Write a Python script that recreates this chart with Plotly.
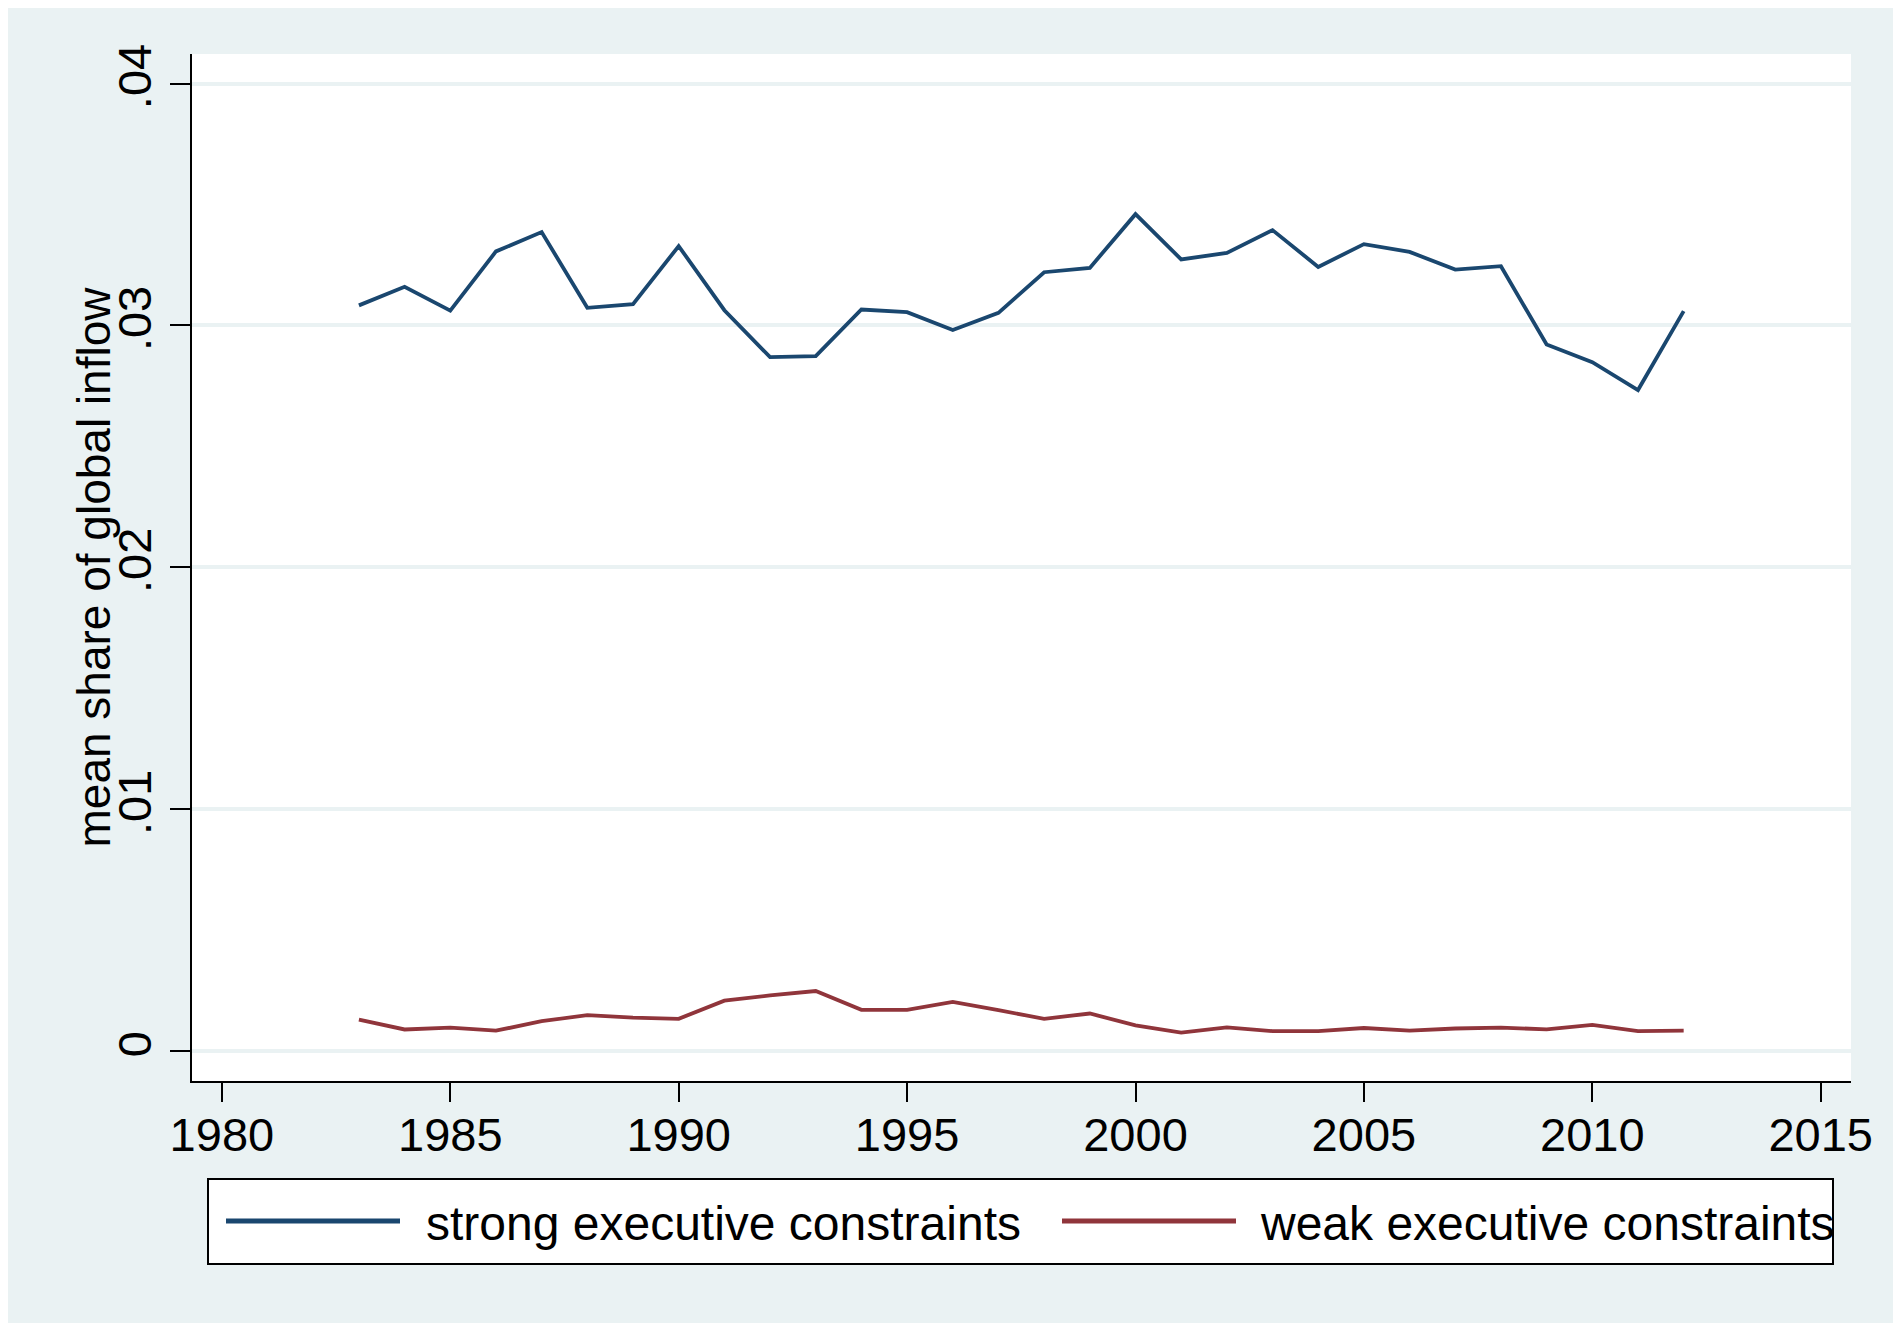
import plotly.graph_objects as go

# yearly data
years = list(range(1983, 2013))
strong = [0.03083, 0.03160, 0.03061, 0.03306, 0.03386, 0.03073, 0.03088, 0.03328,
          0.03063, 0.02869, 0.02873, 0.03066, 0.03055, 0.02981, 0.03052, 0.03220,
          0.03238, 0.03460, 0.03273, 0.03300, 0.03394, 0.03242, 0.03336, 0.03304,
          0.03231, 0.03245, 0.02921, 0.02848, 0.02733, 0.03059]
weak = [0.00131, 0.00090, 0.00098, 0.00085, 0.00124, 0.00149, 0.00139, 0.00134,
        0.00209, 0.00231, 0.00249, 0.00171, 0.00171, 0.00204, 0.00170, 0.00134,
        0.00156, 0.00107, 0.00077, 0.00099, 0.00083, 0.00083, 0.00096, 0.00085,
        0.00094, 0.00098, 0.00090, 0.00109, 0.00083, 0.00085]

x_ticks = [1980, 1985, 1990, 1995, 2000, 2005, 2010, 2015]
y_ticks = [0, 0.01, 0.02, 0.03, 0.04]
y_tick_labels = ['0', '.01', '.02', '.03', '.04']

series_names = ['strong executive constraints', 'weak executive constraints']
colors = ['#1a476f', '#90353b']
y_title = 'mean share of global inflow'

BG = '#eaf2f3'
FONT = 'Liberation Sans, Arial, sans-serif'

W, H = 1901, 1323
L, R, T, B = 184, 58, 46, 250
PW, PH = W - L - R, H - T - B


# pixel position -> paper coordinates (for the hand-drawn legend)
def px(x):
    return (x - L) / PW


def py(y):
    return 1 - (y - T) / PH


fig = go.Figure()

for name, vals, col in zip(series_names, [strong, weak], colors):
    fig.add_trace(go.Scatter(x=years, y=vals, mode='lines', name=name,
                             line=dict(color=col, width=3.8), showlegend=False))

fig.update_layout(
    width=W, height=H,
    margin=dict(l=L, r=R, t=T, b=B, autoexpand=False),
    paper_bgcolor=BG,
    plot_bgcolor='white',
    font=dict(family=FONT, color='black'),
)

fig.update_xaxes(
    range=[1979.346, 2015.663],
    tickvals=x_ticks,
    ticks='outside', ticklen=19, tickwidth=2, tickcolor='black',
    tickfont=dict(size=47), ticklabelstandoff=-7,
    showline=True, linecolor='black', linewidth=2,
    showgrid=False, zeroline=False,
)

fig.update_yaxes(
    range=[-0.00123, 0.04122],
    tickvals=y_ticks, ticktext=y_tick_labels,
    tickangle=-90,
    ticks='outside', ticklen=20, tickwidth=2, tickcolor='black',
    tickfont=dict(size=47),
    showline=True, linecolor='black', linewidth=2,
    showgrid=True, gridcolor=BG, gridwidth=4, zeroline=False,
)

# y title sits tight against the tick labels, as in Stata
fig.add_annotation(text=y_title, xref='paper', yref='paper',
                   x=px(85), y=0.5, xanchor='center', yanchor='middle',
                   textangle=-90, showarrow=False, font=dict(size=46))

# legend box drawn by hand so the line samples match the long Stata keys
box_x0, box_x1, box_y0, box_y1 = 200, 1825, 1171, 1256
fig.add_shape(type='rect', xref='paper', yref='paper',
              x0=px(box_x0), x1=px(box_x1), y0=py(box_y1), y1=py(box_y0),
              line=dict(color='black', width=2), fillcolor='white', layer='below')

key_y = 1213
key_starts = [218, 1054]
text_starts = [416, 1250]
for name, col, k0, t0 in zip(series_names, colors, key_starts, text_starts):
    fig.add_shape(type='line', xref='paper', yref='paper',
                  x0=px(k0), x1=px(k0 + 174), y0=py(key_y), y1=py(key_y),
                  line=dict(color=col, width=5))
    fig.add_annotation(text=name, xref='paper', yref='paper',
                       x=px(t0), y=py(key_y + 2), xanchor='left', yanchor='middle',
                       showarrow=False, font=dict(size=48, color='black'))

fig.write_html('out.html')
